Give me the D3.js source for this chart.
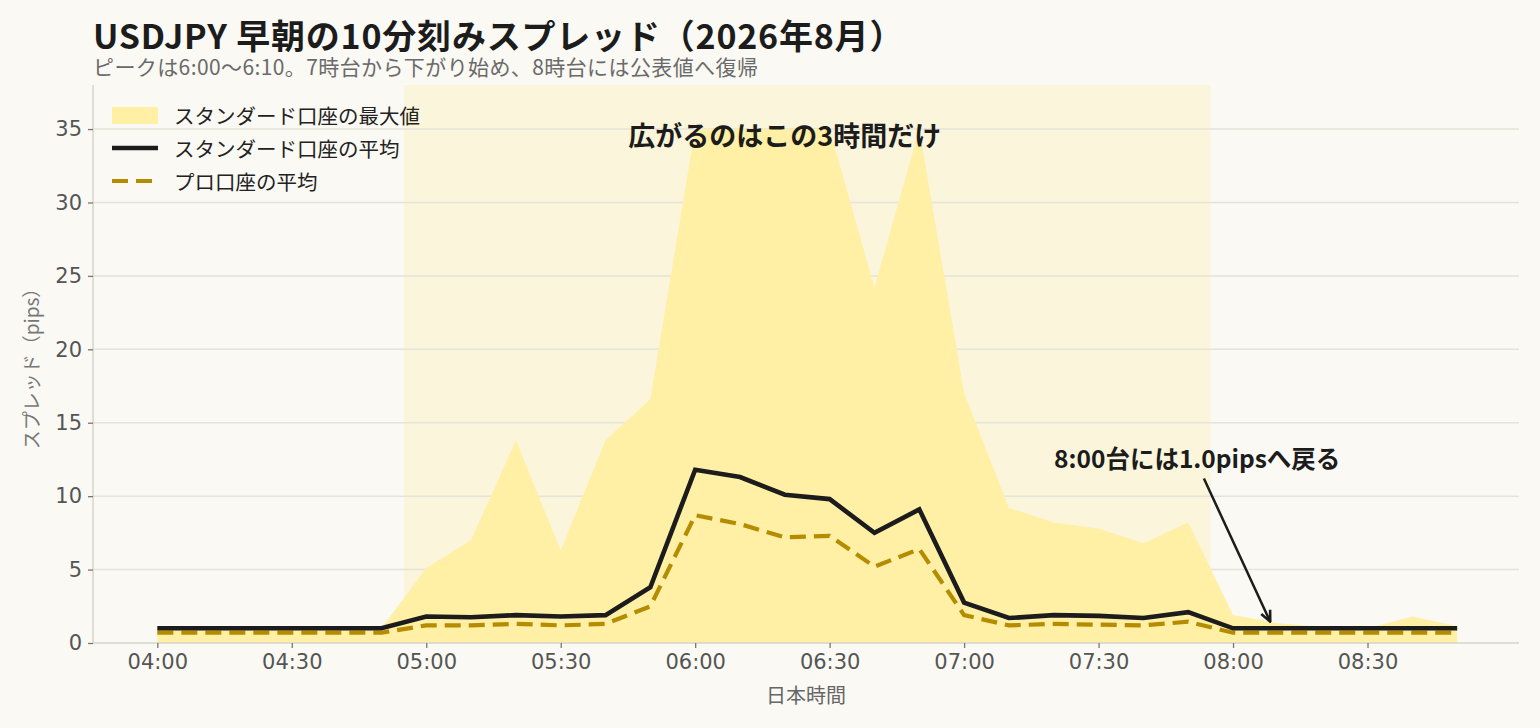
<!DOCTYPE html>
<html>
<head>
<meta charset="utf-8">
<script src="https://cdn.jsdelivr.net/npm/d3@7"></script>
<style>
  html, body { margin: 0; padding: 0; background: #faf9f4; }
  text { font-family: "Noto Sans CJK JP", "Noto Sans", sans-serif; }
  .tick text { font-family: "DejaVu Sans", sans-serif; }
</style>
</head>
<body>
<div id="chart"></div>
<script>
// 10分刻みの時刻
const times = ["04:00","04:10","04:20","04:30","04:40","04:50",
               "05:00","05:10","05:20","05:30","05:40","05:50",
               "06:00","06:10","06:20","06:30","06:40","06:50",
               "07:00","07:10","07:20","07:30","07:40","07:50",
               "08:00","08:10","08:20","08:30","08:40","08:50"];
// スタンダード口座の最大値
const stdMax = [1.0, 1.0, 1.0, 1.0, 1.0, 1.0,
                5.1, 7.0, 13.8, 6.3, 13.8, 16.6,
                35, 35, 35, 35, 24.2, 35,
                17.0, 9.2, 8.2, 7.8, 6.8, 8.2,
                1.9, 1.35, 1.1, 1.0, 1.8, 1.15];
// スタンダード口座の平均
const stdAvg = [1.0, 1.0, 1.0, 1.0, 1.0, 1.0,
                1.8, 1.75, 1.9, 1.8, 1.9, 3.8,
                11.8, 11.3, 10.1, 9.8, 7.5, 9.1,
                2.75, 1.7, 1.9, 1.85, 1.7, 2.1,
                1.0, 1.0, 1.0, 1.0, 1.0, 1.0];
// プロ口座の平均
const proAvg = [0.7, 0.7, 0.7, 0.7, 0.7, 0.7,
                1.2, 1.2, 1.3, 1.2, 1.3, 2.5,
                8.7, 8.1, 7.2, 7.3, 5.2, 6.4,
                1.9, 1.2, 1.3, 1.25, 1.2, 1.45,
                0.7, 0.7, 0.7, 0.7, 0.7, 0.7];

const xTicks = ["04:00","04:30","05:00","05:30","06:00","06:30","07:00","07:30","08:00","08:30"];
const yTicks = [0, 5, 10, 15, 20, 25, 30, 35];
const band = ["04:55", "07:55"];

const width = 1540, height = 728;
const margin = {top: 85, right: 21, bottom: 85, left: 93};

const parse = d3.timeParse("%H:%M");
const data = times.map((t, i) => ({t: parse(t), max: stdMax[i], avg: stdAvg[i], pro: proAvg[i]}));

const svg = d3.select("#chart").append("svg")
    .attr("width", width).attr("height", height);

svg.append("rect").attr("width", width).attr("height", height).attr("fill", "#faf9f4");

const t0 = data[0].t, t1 = data[data.length - 1].t;
const x = d3.scaleTime()
    .domain([new Date(+t0 - 14.35 * 60000), new Date(+t1 + 13.8 * 60000)])
    .range([margin.left, width - margin.right]);
const y = d3.scaleLinear()
    .domain([0, 38])
    .range([height - margin.bottom, margin.top]);

// 強調帯
svg.append("rect")
    .attr("x", x(parse(band[0])))
    .attr("y", margin.top)
    .attr("width", x(parse(band[1])) - x(parse(band[0])))
    .attr("height", y(0) - margin.top)
    .attr("fill", "#faf5db");

// グリッド
svg.append("g")
   .selectAll("line")
   .data(yTicks.slice(1))
   .enter().append("line")
   .attr("x1", margin.left).attr("x2", width - margin.right)
   .attr("y1", d => y(d)).attr("y2", d => y(d))
   .attr("stroke", "#e5e3da").attr("stroke-width", 1.5);

// 最大値エリア
svg.append("path")
   .datum(data)
   .attr("fill", "#fff0a6")
   .attr("d", d3.area().x(d => x(d.t)).y0(y(0)).y1(d => y(d.max)));

// プロ口座の平均
svg.append("path")
   .datum(data)
   .attr("fill", "none")
   .attr("stroke", "#b58c00")
   .attr("stroke-width", 4.2)
   .attr("stroke-dasharray", "16,8")
   .attr("d", d3.line().x(d => x(d.t)).y(d => y(d.pro)));

// スタンダード口座の平均
svg.append("path")
   .datum(data)
   .attr("fill", "none")
   .attr("stroke", "#1c1c1c")
   .attr("stroke-width", 4.6)
   .attr("stroke-linejoin", "miter")
   .attr("d", d3.line().x(d => x(d.t)).y(d => y(d.avg)));

// 軸
const xAxis = svg.append("g")
   .attr("transform", `translate(0,${y(0)})`)
   .call(d3.axisBottom(x).tickValues(xTicks.map(parse)).tickFormat(d3.timeFormat("%H:%M")).tickSize(5).tickPadding(6));
const yAxis = svg.append("g")
   .attr("transform", `translate(${margin.left},0)`)
   .call(d3.axisLeft(y).tickValues(yTicks).tickSize(5).tickPadding(6));
[xAxis, yAxis].forEach(g => {
  g.select(".domain").attr("stroke", "#d6d4cb").attr("stroke-width", 1.5);
  g.selectAll(".tick line").attr("stroke", "#777").attr("stroke-width", 1.3);
  g.selectAll(".tick text").attr("fill", "#555").style("font-size", "21px");
});
xAxis.select(".domain").attr("d", `M${margin.left},0H${width - margin.right}`);
yAxis.select(".domain").attr("d", `M0,${margin.top}V${y(0)}`);

// 軸ラベル
svg.append("text")
   .attr("x", (margin.left + width - margin.right) / 2).attr("y", 703)
   .attr("text-anchor", "middle").attr("fill", "#666").style("font-size", "20px")
   .text("日本時間");
svg.append("text")
   .attr("transform", `translate(39,${(margin.top + y(0)) / 2}) rotate(-90)`)
   .attr("text-anchor", "middle").attr("fill", "#777").style("font-size", "19px")
   .text("スプレッド（pips）");

// タイトル
svg.append("text")
   .attr("x", 93).attr("y", 49)
   .attr("fill", "#1c1c1c").style("font-size", "34px").style("font-weight", "bold")
   .style("letter-spacing", "0.8px")
   .text("USDJPY 早朝の10分刻みスプレッド（2026年8月）");
svg.append("text")
   .attr("x", 93).attr("y", 75)
   .attr("fill", "#6a6a6a").style("font-size", "21px")
   .style("letter-spacing", "0.4px")
   .text("ピークは6:00〜6:10。7時台から下がり始め、8時台には公表値へ復帰");

// 注記
svg.append("text")
   .attr("x", x(parse("06:20"))).attr("y", y(34.6))
   .attr("text-anchor", "middle").attr("dominant-baseline", "central")
   .attr("fill", "#1c1c1c").style("font-size", "27px").style("font-weight", "bold")
   .text("広がるのはこの3時間だけ");

const noteT = new Date(+parse("07:52"));
svg.append("text")
   .attr("x", x(noteT)).attr("y", y(12.6))
   .attr("text-anchor", "middle").attr("dominant-baseline", "central")
   .attr("fill", "#1c1c1c").style("font-size", "24.5px").style("font-weight", "bold")
   .text("8:00台には1.0pipsへ戻る");

svg.append("defs").append("marker")
   .attr("id", "arrow").attr("viewBox", "0 0 12 12")
   .attr("refX", 11).attr("refY", 6)
   .attr("markerWidth", 13).attr("markerHeight", 13)
   .attr("markerUnits", "userSpaceOnUse")
   .attr("orient", "auto")
   .append("path").attr("d", "M1,1.5L11,6L1,10.5")
   .attr("fill", "none").attr("stroke", "#1c1c1c").attr("stroke-width", 2.4);

const arrowFrom = new Date(+parse("07:53") + 30000);
const arrowTo = new Date(+parse("08:08") + 18000);
svg.append("line")
   .attr("x1", x(arrowFrom)).attr("y1", y(11.2))
   .attr("x2", x(arrowTo)).attr("y2", y(1.45))
   .attr("stroke", "#1c1c1c").attr("stroke-width", 2.5)
   .attr("marker-end", "url(#arrow)");

// 凡例
const legend = svg.append("g");
const legendItems = [
  {label: "スタンダード口座の最大値", type: "area"},
  {label: "スタンダード口座の平均", type: "line"},
  {label: "プロ口座の平均", type: "dash"}
];
legendItems.forEach((d, i) => {
  const cy = 115 + i * 33;
  if (d.type === "area") {
    legend.append("rect").attr("x", 112).attr("y", cy - 8).attr("width", 46).attr("height", 17).attr("fill", "#fff0a6");
  } else if (d.type === "line") {
    legend.append("line").attr("x1", 112).attr("x2", 158).attr("y1", cy).attr("y2", cy)
      .attr("stroke", "#1c1c1c").attr("stroke-width", 4.6);
  } else {
    legend.append("line").attr("x1", 112).attr("x2", 158).attr("y1", cy).attr("y2", cy)
      .attr("stroke", "#b58c00").attr("stroke-width", 4.2).attr("stroke-dasharray", "16,8");
  }
  legend.append("text").attr("x", 174).attr("y", cy).attr("dominant-baseline", "central")
    .attr("fill", "#222").style("font-size", "20.5px").text(d.label);
});
</script>
</body>
</html>
